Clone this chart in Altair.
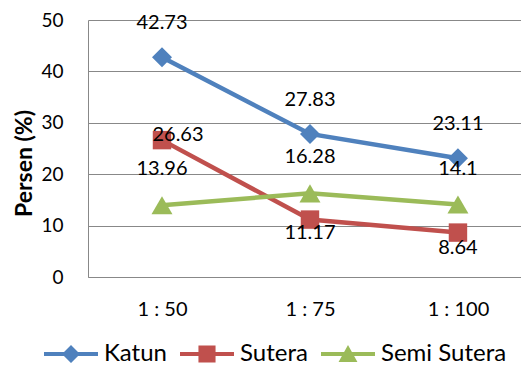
import json
import altair as alt
import pandas as pd

categories = ["1 : 50", "1 : 75", "1 : 100"]
series_names = ["Katun", "Sutera", "Semi Sutera"]
katun = [42.73, 27.83, 23.11]
sutera = [26.63, 11.17, 8.64]
semi_sutera = [13.96, 16.28, 14.1]
y_ticks = [0, 10, 20, 30, 40, 50]

colors = ["#4F81BD", "#C0504D", "#9BBB59"]
marker_shapes = ["diamond", "square", "triangle-up"]
marker_sizes = [400, 340, 440]
FONT = "Lato"

rows = []
for name, vals in zip(series_names, [katun, sutera, semi_sutera]):
    for i, (c, v) in enumerate(zip(categories, vals)):
        rows.append({"series": name, "cat": c, "idx": i, "value": v, "label": f"{v:g}"})
df = pd.DataFrame(rows)

label_expr = json.dumps(categories) + "[datum.value]"

x_enc = alt.X(
    "idx:Q",
    scale=alt.Scale(domain=[-0.5, 2.426], nice=False, zero=False),
    axis=alt.Axis(
        values=[0, 1, 2], labelExpr=label_expr, title=None, grid=False,
        ticks=False, tickSize=0, domain=True, domainColor="#888888", domainWidth=1,
        labelFont=FONT, labelFontSize=20, labelColor="#000000", labelPadding=22,
        labelFlush=False, labelOverlap=False,
    ),
)
y_enc = alt.Y(
    "value:Q",
    scale=alt.Scale(domain=[0, 50], nice=False),
    axis=alt.Axis(
        values=y_ticks, grid=True, gridColor="#888888", gridWidth=1,
        ticks=False, tickSize=0, domain=True, domainColor="#888888", domainWidth=1,
        labelFont=FONT, labelFontSize=19, labelColor="#000000", labelPadding=25,
        labelFlush=False,
        title="Persen (%)", titleFont=FONT, titleFontSize=23, titleFontWeight="bold",
        titleColor="#000000", titleX=-64, titleY=143, titleAngle=270,
        titleAlign="center", titleBaseline="middle",
    ),
)

# legend symbols: line with marker
legend_paths = [
    "M-3,-0.22L3,-0.22L3,0.22L-3,0.22Z M0,-1L1,0L0,1L-1,0Z",
    "M-3,-0.22L3,-0.22L3,0.22L-3,0.22Z M-0.95,-0.95L0.95,-0.95L0.95,0.95L-0.95,0.95Z",
    "M-3,-0.22L3,-0.22L3,0.22L-3,0.22Z M0,-1L1.05,0.9L-1.05,0.9Z",
]

lines, points, texts = [], [], []
text_offsets = [
    ({"dx": 0, "dy": -34}),
    ({"dx": {"expr": "datum.idx == 0 ? 16 : 0"},
      "dy": {"expr": "datum.idx == 0 ? -5 : (datum.idx == 1 ? 13 : 15)"}}),
    ({"dx": 0, "dy": -36}),
]
for name, col, shp, sz, off in zip(series_names, colors, marker_shapes, marker_sizes, text_offsets):
    base = alt.Chart(df).transform_filter(alt.datum.series == name)
    lines.append(base.mark_line(color=col, strokeWidth=4.5).encode(x=x_enc, y=y_enc))
    points.append(base.mark_point(shape=shp, filled=True, color=col, size=sz, opacity=1).encode(x=x_enc, y=y_enc))
    texts.append(base.mark_text(font=FONT, fontSize=20, color="#000000", baseline="middle", **off)
                 .encode(x=x_enc, y=y_enc, text="label:N"))

leg = dict(
    title=None, orient="none", legendX=-29, legendY=322, direction="horizontal",
    labelFont=FONT, labelFontSize=24, labelColor="#000000", labelOffset=21,
    symbolSize=324, symbolStrokeWidth=0, columnPadding=13, padding=0,
    labelBaseline="middle", symbolOpacity=1,
)
legend_layer = alt.Chart(df).transform_filter("false").mark_point(filled=True).encode(
    x=x_enc, y=y_enc,
    color=alt.Color("series:N", scale=alt.Scale(domain=series_names, range=colors), legend=alt.Legend(**leg)),
    shape=alt.Shape("series:N", scale=alt.Scale(domain=series_names, range=legend_paths), legend=alt.Legend(**leg)),
)

chart = alt.layer(*lines, *points, *texts, legend_layer).properties(
    width=433, height=257, autosize="none",
    padding={"left": 88, "top": 20, "right": 0, "bottom": 90},
    background="#ffffff",
).configure_view(stroke=None)

chart.save("out.html", embed_options={"renderer": "svg", "actions": False})
